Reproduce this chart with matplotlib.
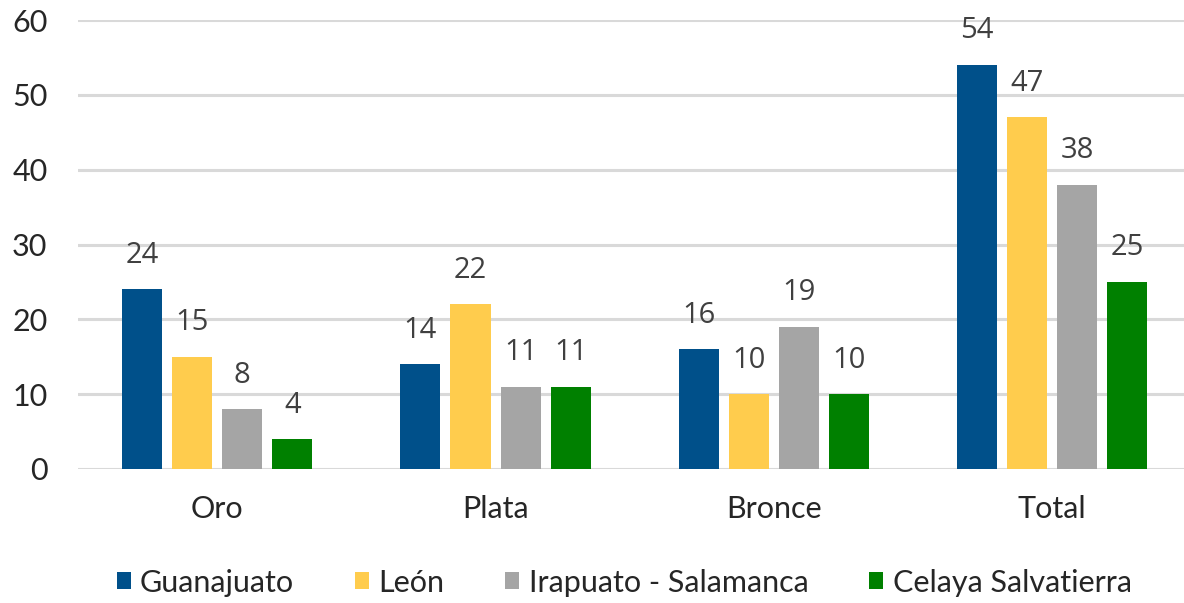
import matplotlib.pyplot as plt
import numpy as np

categories = ['Oro', 'Plata', 'Bronce', 'Total']
series = ['Guanajuato', 'León', 'Irapuato - Salamanca', 'Celaya Salvatierra']
guanajuato = [24, 14, 16, 54]
leon = [15, 22, 10, 47]
irapuato = [8, 11, 19, 38]
celaya = [4, 11, 10, 25]
y_ticks = [0, 10, 20, 30, 40, 50, 60]

colors = ['#00508A', '#FFCC4D', '#A5A5A5', '#008000']
values = [guanajuato, leon, irapuato, celaya]

plt.rcParams['font.family'] = ['Lato', 'DejaVu Sans']

fig = plt.figure(figsize=(11.84, 6.03), dpi=100)
ax = fig.add_axes([78 / 1184, 1 - 469 / 603, 1119 / 1184, 449 / 603])

x = np.arange(len(categories))
width = 0.144
step = 0.18
for i, (name, vals) in enumerate(zip(series, values)):
    pos = x + (i - 1.5) * step
    bars = ax.bar(pos, vals, width, color=colors[i], label=name, zorder=3)
    for b, v in zip(bars, vals):
        ax.annotate(str(v), (b.get_x() + b.get_width() / 2, v),
                    xytext=(0, 34), textcoords='offset pixels',
                    ha='center', va='center', fontsize=21,
                    color='#404040', family=['Open Sans', 'DejaVu Sans'])

ax.set_ylim(0, 60)
ax.set_xlim(-0.5, 3.52)
ax.set_yticks(y_ticks)
ax.set_xticks(x)
ax.set_xticklabels(categories)
ax.yaxis.grid(True, color='#D9D9D9', linewidth=2.2, zorder=0)
ax.set_axisbelow(True)
for s in ax.spines.values():
    s.set_visible(False)
ax.tick_params(axis='both', length=0, labelsize=22, colors='#262626')
ax.tick_params(axis='y', pad=22)
ax.tick_params(axis='x', pad=19)

ax.legend(loc='center', bbox_to_anchor=(0.5 - 0.012, -0.253),
          ncol=4, frameon=False, fontsize=22, handlelength=0.46,
          handleheight=0.46, handletextpad=0.3, columnspacing=2.0,
          labelcolor='#262626')

fig.savefig('out.png', dpi=100)
